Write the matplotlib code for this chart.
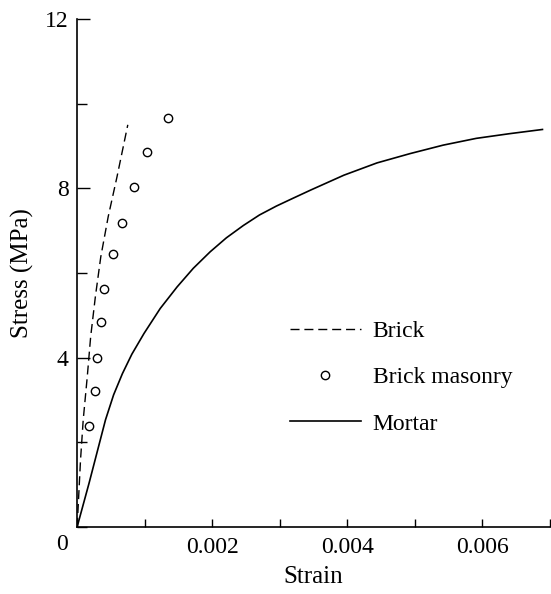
# Stress-strain curves for brick, mortar and brick masonry
import numpy as np
import matplotlib
matplotlib.use("Agg")
import matplotlib.pyplot as plt
from matplotlib.ticker import MultipleLocator

plt.rcParams["font.family"] = ["Liberation Serif", "DejaVu Serif"]

# values
brick_strain = [0, 0.00005, 0.00009, 0.00015, 0.00020, 0.00027, 0.00035, 0.00046,
                0.00059, 0.00075]
brick_stress = [0, 1.58, 2.53, 3.55, 4.49, 5.44, 6.38, 7.33, 8.27, 9.50]

masonry_strain = [0.00018, 0.00026, 0.00029, 0.00036, 0.00040, 0.00053, 0.00067,
                  0.00084, 0.00103, 0.00135]
masonry_stress = [2.38, 3.20, 4.00, 4.83, 5.62, 6.45, 7.19, 8.04, 8.85, 9.66]

mortar_strain = [0, 0.000176, 0.00042, 0.00054, 0.00067, 0.00081, 0.00099, 0.00123,
                 0.00148, 0.00172, 0.00197, 0.00221, 0.00246, 0.00270, 0.00295,
                 0.00319, 0.00346, 0.00395, 0.00444, 0.00493, 0.00542, 0.00591,
                 0.00640, 0.00689]
mortar_stress = [0, 1.03, 2.53, 3.12, 3.62, 4.08, 4.57, 5.16,
                 5.67, 6.11, 6.50, 6.83, 7.12, 7.37, 7.58,
                 7.76, 7.96, 8.31, 8.60, 8.82, 9.02, 9.18,
                 9.29, 9.39]

fig = plt.figure(figsize=(5.51, 5.94), dpi=100)
ax = fig.add_axes([0.140, 0.113, 0.858, 0.855])

brick_line, = ax.plot(brick_strain, brick_stress, color="black", lw=1.0, label="Brick")
brick_line.set_dashes([6.5, 3.5])
ax.plot(masonry_strain, masonry_stress, "o", ms=6, mfc="white", mec="black", mew=1.0,
        label="Brick masonry")
ax.plot(mortar_strain, mortar_stress, color="black", lw=1.2, label="Mortar")

ax.set_xlim(0, 0.007)
ax.set_ylim(0, 12)
ax.xaxis.set_minor_locator(MultipleLocator(0.001))
ax.yaxis.set_minor_locator(MultipleLocator(2))
ax.set_xticks([0.002, 0.004, 0.006])
ax.set_xticklabels(["0.002", "0.004", "0.006"])
ax.set_yticks([4, 8, 12])
ax.set_yticklabels(["4", "8", "12"])

ax.tick_params(axis="x", which="major", direction="in", length=6, width=1.0, pad=7, labelsize=17)
ax.tick_params(axis="x", which="minor", direction="in", length=6, width=1.0)
ax.tick_params(axis="y", which="major", direction="in", length=9.5, width=1.0, pad=6, labelsize=17)
ax.tick_params(axis="y", which="minor", direction="in", length=7.5, width=1.0)

for side in ["top", "right"]:
    ax.spines[side].set_visible(False)
for side in ["left", "bottom"]:
    ax.spines[side].set_linewidth(1.2)

ax.annotate("0", xy=(0, 0), xytext=(-11, -13), textcoords="offset points",
            ha="center", va="center", fontsize=17)

ax.set_xlabel("Strain", fontsize=18, labelpad=6)
ax.set_ylabel("Stress (MPa)", fontsize=18, labelpad=8)

ax.legend(loc="upper left", bbox_to_anchor=(0.43, 0.425), frameon=False, fontsize=17,
          handlelength=3.0, handletextpad=0.5, labelspacing=1.05, numpoints=1,
          borderaxespad=0)

fig.savefig("out.png", dpi=100)
